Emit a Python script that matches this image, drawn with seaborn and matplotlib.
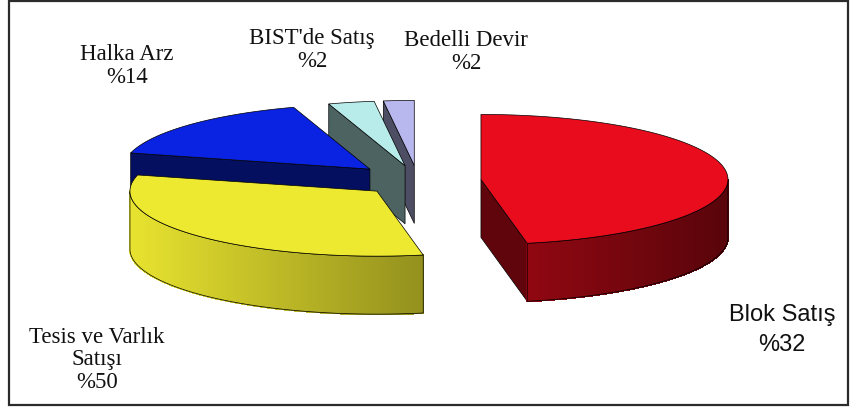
import numpy as np
import matplotlib
matplotlib.use("Agg")
import matplotlib.pyplot as plt
from matplotlib.patches import Polygon, Rectangle
from matplotlib.collections import PolyCollection
import seaborn as sns

# --- DATA ---
categories = ["Tesis ve Varlık Satışı", "Blok Satış", "Halka Arz", "BIST'de Satış", "Bedelli Devir"]
label_names = ["Tesis ve Varlık\nSatışı", "Blok Satış", "Halka Arz", "BIST'de Satış", "Bedelli Devir"]
label_pct = [50, 32, 14, 2, 2]      # percentages printed on the chart
slice_pct = [47, 32, 16, 3, 2]      # slice sizes as drawn in the chart

# --- STYLE ---
top_colors = ["#E80C1C", "#EDE830", "#0A23E2", "#B8ECEA", "#B8B8EE"]
explode = [0.256, 0.228, 0.267, 0.24, 0.24]
label_pos = [(97, 360), (782, 330), (127, 66), (312, 50), (466, 52)]
label_font = ["Liberation Serif", "Liberation Sans", "Liberation Serif",
              "Liberation Serif", "Liberation Serif"]
START = 90.0                     # degrees, slices run clockwise
CX, CY = 418, 181                # pie centre (pixels)
A, B, H = 247, 65, 58            # ellipse half axes and pie thickness
WALL_DARK = 0.42


def rgb(c):
    return np.array(matplotlib.colors.to_rgb(c))


def shade(c, f):
    return tuple(np.clip(rgb(c) * f, 0, 1))


def rim_factor(th):
    return np.clip(0.68 - 0.3 * np.cos(th), 0.38, 1.0)


sns.set_theme(style="white")
fig = plt.figure(figsize=(8.57, 4.07), dpi=100)
ax = fig.add_axes([0, 0, 1, 1])
ax.set_xlim(0, 857)
ax.set_ylim(407, 0)
ax.axis("off")

# slice geometry from the shares
bounds = START - np.concatenate([[0], np.cumsum(slice_pct)]) * 3.6
slices = []
for i, v in enumerate(slice_pct):
    ts, te = np.radians(bounds[i]), np.radians(bounds[i + 1])
    mid = (ts + te) / 2
    ax0 = CX + explode[i] * A * np.cos(mid)
    ay0 = CY - explode[i] * B * np.sin(mid)
    slices.append((ay0, i, ts, te, ax0))


def P(x0, y0, th, dz=0):
    return (x0 + A * np.cos(th), y0 - B * np.sin(th) + dz)


# back slices first
for ay0, i, ts, te, ax0 in sorted(slices):
    col = top_colors[i]
    # radial walls
    for th, vis in ((ts, np.cos(ts) < -1e-6), (te, np.cos(te) > 1e-6)):
        if vis:
            quad = [(ax0, ay0), P(ax0, ay0, th), P(ax0, ay0, th, H), (ax0, ay0 + H)]
            ax.add_patch(Polygon(quad, closed=True, fc=shade(col, WALL_DARK),
                                 ec="black", lw=0.5, zorder=2))
    # outer rim (front part only)
    th = np.linspace(te, ts, 300)
    front = np.sin(th) < 0
    if front.any():
        idx = np.where(front)[0]
        runs = np.split(idx, np.where(np.diff(idx) > 1)[0] + 1)
        for run in runs:
            t = th[run]
            quads, cols = [], []
            for k in range(len(t) - 1):
                q = [P(ax0, ay0, t[k]), P(ax0, ay0, t[k + 1]),
                     P(ax0, ay0, t[k + 1], H), P(ax0, ay0, t[k], H)]
                quads.append(q)
                cols.append(shade(col, rim_factor((t[k] + t[k + 1]) / 2)))
            ax.add_collection(PolyCollection(quads, facecolors=cols, edgecolors="face",
                                             lw=0.8, antialiaseds=False, zorder=2))
            outline = [P(ax0, ay0, x) for x in t] + [P(ax0, ay0, x, H) for x in t[::-1]]
            ax.add_patch(Polygon(outline, closed=True, fill=False,
                                 ec="black", lw=0.5, zorder=2))
    # top face
    t = np.linspace(ts, te, 200)
    face = [(ax0, ay0)] + [P(ax0, ay0, x) for x in t]
    ax.add_patch(Polygon(face, closed=True, fc=col, ec="black", lw=0.5, zorder=2))

# labels
for i, name in enumerate(label_names):
    x, y = label_pos[i]
    sans = label_font[i] == "Liberation Sans"
    ax.text(x, y, f"{name}\n%{label_pct[i]}", ha="center", va="center",
            fontsize=17 if sans else 16.5, family=label_font[i], color="#111111",
            linespacing=1.45 if sans else 1.1, zorder=3)

# chart frame
ax.add_patch(Rectangle((9, 1), 839, 404, fill=False, ec="#2b2b2b", lw=1.6, zorder=4))

fig.savefig("out.png", dpi=100)
